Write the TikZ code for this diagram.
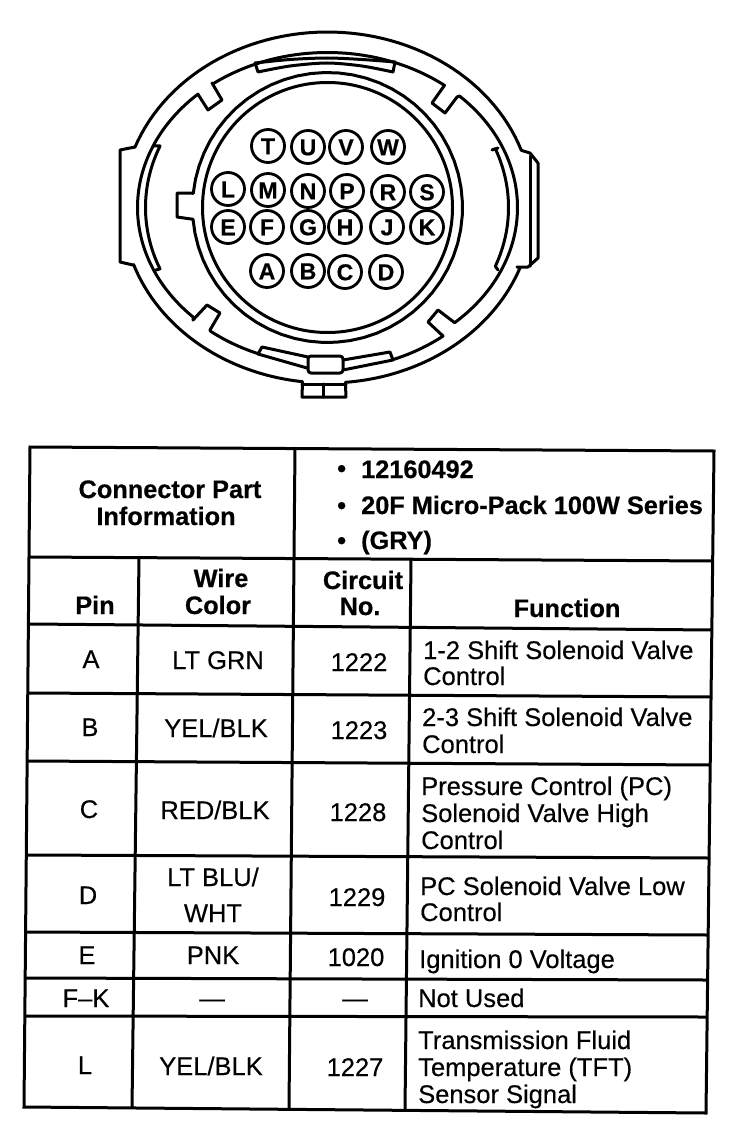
\documentclass[tikz,border=0pt]{standalone}
\usepackage{fontspec}
\setmainfont{Liberation Sans}
\newfontfamily\rgfont{Liberation Sans}[FakeBold=0.35]
\newfontfamily\bdfont{Liberation Sans}[UprightFont={* Bold},FakeBold=0.5]
\tikzset{
  heavy/.style={draw=black,line width=3pt,line join=round,line cap=round},
  rule/.style={draw=black,line width=3pt,line cap=square},
  pin/.style={draw=black,line width=2.8pt,circle,fill=white,minimum size=33pt,inner sep=0pt,font=\fontsize{23}{23}\bdfont,text height=16.5pt,text depth=0pt},
  cc/.style={inner sep=0pt,font=\fontsize{25.5}{25.5}\rgfont,text height=18pt,text depth=0pt,anchor=center},
  ll/.style={cc,anchor=west},
  bc/.style={cc,font=\fontsize{25.3}{25.3}\bdfont},
  bl/.style={bc,anchor=west},
  arcs/.style={samples=60,domain=#1},
}
\begin{document}
\begin{tikzpicture}[x=1pt,y=-1pt]
\useasboundingbox (0,0) rectangle (736,1126);
% connector shell
\draw[heavy] (133,265) -- (120,262) -- (120,150) -- (135,147)
  -- plot[arcs=200:341] ({327.5+205*cos(\x)},{207.5+175.5*sin(\x)})
  -- (530,153) -- (538,163) -- (538,258) -- (528,267) -- (517,267)
  -- plot[arcs=20:85] ({327.5+205*cos(\x)},{207.5+175.5*sin(\x)})
  -- (346,397) -- (302,397)
  -- plot[arcs=97:161] ({327.5+205*cos(\x)},{207.5+175.5*sin(\x)}) -- cycle;
\draw[heavy] (302,384) -- (346,384);
\draw[heavy] (323,384) -- (323,397);
\draw[heavy] (530,156) -- (530,266);
% inner circles
\draw[heavy] (327.5,207.5) circle[radius=125];
\draw[heavy] (177,193) -- (190,193)
  -- plot[arcs=186:535] ({327.5+135*cos(\x)},{207.5+135*sin(\x)})
  -- (177,217) -- cycle;
% ring with notches
\draw[heavy] (193,320)
  -- plot[arcs=135:227] ({327.5+190*cos(\x)},{207.5+155*sin(\x)})
  -- (208,110) -- (222,100) -- (212,83)
  -- plot[arcs=233:308] ({327.5+190*cos(\x)},{207.5+155*sin(\x)})
  -- (432,103) -- (445,113) -- (457,97)
  -- plot[arcs=314:408] ({327.5+190*cos(\x)},{207.5+155*sin(\x)})
  -- (438,310) -- (428,322) -- (443,336)
  -- plot[arcs=53:70] ({327.5+190*cos(\x)},{207.5+162*sin(\x)});
\draw[heavy] (193,320) -- (207,305) -- (220,313) -- (210,330)
  -- plot[arcs=128:111] ({327.5+190*cos(\x)},{207.5+157*sin(\x)});
% side ribs
\draw[heavy] (153,146) -- (160,146)
  -- plot[arcs=203:157] ({327.5+182*cos(\x)},{207.5+157*sin(\x)}) -- (156,270);
\draw[heavy] (498,148) -- (492,150)
  -- plot[arcs=-22:22] ({327.5+181*cos(\x)},{207.5+157*sin(\x)}) -- (498,270);
% top pad
\draw[heavy] plot[smooth] coordinates {(255,63) (290,59.5) (327,58) (362,59.5) (395,62)} -- (393,72);
\draw[heavy] plot[smooth] coordinates {(393,72) (362,66) (327,63) (290,66) (258,72)} -- (255,63);
% bottom pad
\draw[heavy] (258,354) -- (262,347) -- (308,357);
\draw[heavy] (258,354) -- (307,368);
\draw[heavy] (343,360) -- (390,352) -- (393,360) -- (343,370);
\draw[heavy,rounded corners=3pt] (308,356) rectangle (343,373);
% pins
\foreach \n/\px/\py in {T/268/146,U/308/147,V/346/147,W/388/147,L/228/189,M/268/190,N/308/191,P/347/191,R/388/192,S/427/192,E/228/227,F/267/227,G/308/227,H/345/227,J/387/227,K/427/227,A/267/271,B/308/271,C/345/272,D/386/272}
  \node[pin] (pin\n) at (\px,\py) {\n};
% table rules
\draw[rule] (30,447) -- (714,451) -- (706,1113) -- (24,1107) -- cycle;
\draw[rule] (30,557) -- (713,561);
\draw[rule] (30,624) -- (712,630);
\draw[rule] (29,693) -- (711,697);
\draw[rule] (28,761) -- (710,765);
\draw[rule] (27,855) -- (709,858);
\draw[rule] (26,932) -- (708,935);
\draw[rule] (25,978) -- (707,980);
\draw[rule] (25,1016) -- (707,1017);
\draw[rule] (295,447) -- (294,557);
\draw[rule] (139,557) -- (132,1108);
\draw[rule] (294,557) -- (289,1109);
\draw[rule] (411,560) -- (405,1110);
% header
\node[bc] (h1) at (170,489) {Connector Part};
\node[bc] (h2) at (166,516) {Information};
\node[bl] (b1) at (337,468) {•};
\node[bl] (b2) at (337,505) {•};
\node[bl] (b3) at (337,540) {•};
\node[bl] (p1) at (361,469) {12160492};
\node[bl] (p2) at (361,505) {20F Micro-Pack 100W Series};
\node[bl] (p3) at (361,540) {(GRY)};
\node[bc] (c1) at (95,605) {Pin};
\node[bc] (c2a) at (221,578) {Wire};
\node[bc] (c2b) at (218,605) {Color};
\node[bc] (c3a) at (363,580) {Circuit};
\node[bc] (c3b) at (360,606) {No.};
\node[bc] (c4) at (567,608) {Function};
% rows
\node[cc] (a1) at (91,659) {A};
\node[cc] (a2) at (218,660) {LT GRN};
\node[cc] (a3) at (359,662) {1222};
\node[ll] (a4) at (423,650) {1-2 Shift Solenoid Valve};
\node[ll] (a5) at (423,676) {Control};
\node[cc] (b1x) at (90,727) {B};
\node[cc] (b2x) at (216,728) {YEL/BLK};
\node[cc] (b3x) at (359,730) {1223};
\node[ll] (b4x) at (422,717) {2-3 Shift Solenoid Valve};
\node[ll] (b5x) at (422,744) {Control};
\node[cc] (c1x) at (89,809) {C};
\node[cc] (c2x) at (215,810) {RED/BLK};
\node[cc] (c3x) at (358,812) {1228};
\node[ll] (c4x) at (421,786) {Pressure Control (PC)};
\node[ll] (c5x) at (421,813) {Solenoid Valve High};
\node[ll] (c6x) at (421,840) {Control};
\node[cc] (d1) at (88,895) {D};
\node[cc] (d2) at (213,877) {LT BLU/};
\node[cc] (d2b) at (213,913) {WHT};
\node[cc] (d3) at (357,897) {1229};
\node[ll] (d4) at (420,886) {PC Solenoid Valve Low};
\node[ll] (d5) at (420,912) {Control};
\node[cc] (e1) at (87,955) {E};
\node[cc] (e2) at (213,955) {PNK};
\node[cc] (e3) at (356,957) {1020};
\node[ll] (e4) at (419,959) {Ignition 0 Voltage};
\node[cc] (f1) at (86,998) {F–K};
\node[cc] (f2) at (212,998) {—};
\node[cc] (f3) at (355,998) {—};
\node[ll] (f4) at (418,998) {Not Used};
\node[cc] (l1) at (85,1065) {L};
\node[cc] (l2) at (211,1066) {YEL/BLK};
\node[cc] (l3) at (355,1067) {1227};
\node[ll] (l4) at (418,1040) {Transmission Fluid};
\node[ll] (l5) at (418,1067) {Temperature (TFT)};
\node[ll] (l6) at (418,1094) {Sensor Signal};
\end{tikzpicture}
\end{document}
